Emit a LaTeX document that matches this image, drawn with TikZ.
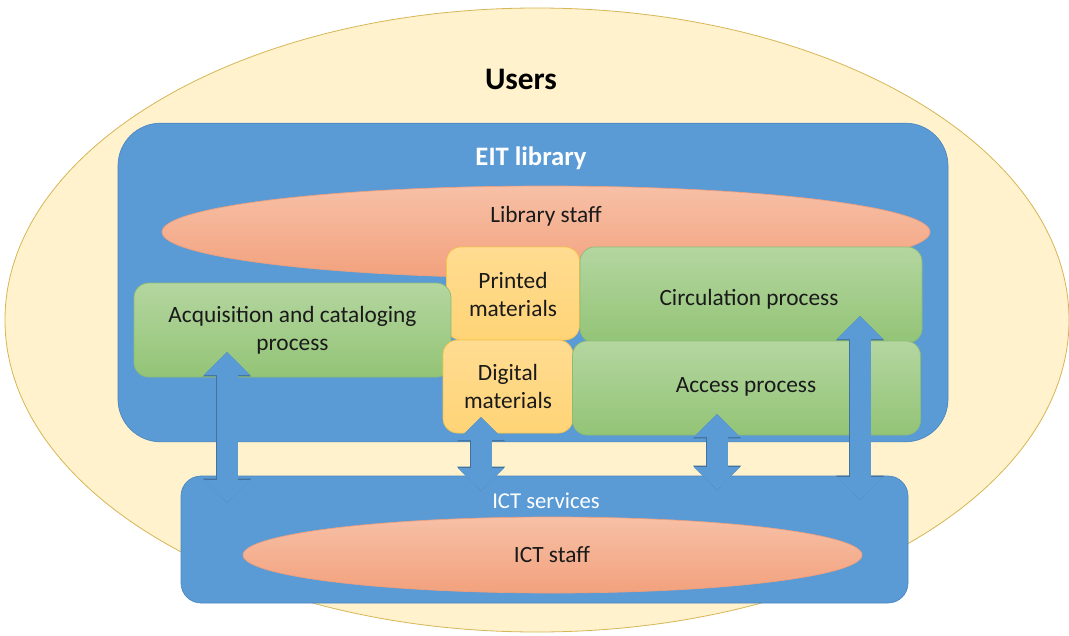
\documentclass[tikz,border=0pt]{standalone}
\usepackage{fontspec}
\setmainfont{Carlito}
\usetikzlibrary{shapes.geometric,arrows.meta}
\definecolor{userfill}{HTML}{FFF2CC}
\definecolor{userline}{HTML}{D6B656}
\definecolor{blue1}{HTML}{5B9BD5}
\definecolor{blueline}{HTML}{4A86C0}
\definecolor{arrline}{HTML}{41719C}
\definecolor{orTop}{HTML}{F7C0A6}
\definecolor{orBot}{HTML}{F2A17D}
\definecolor{orLine}{HTML}{EE9F7C}
\definecolor{grTop}{HTML}{B4D6A0}
\definecolor{grBot}{HTML}{93C476}
\definecolor{grLine}{HTML}{8DBB74}
\definecolor{yeTop}{HTML}{FFDC92}
\definecolor{yeBot}{HTML}{FFD476}
\definecolor{yeLine}{HTML}{F6C34C}
\definecolor{txt}{HTML}{1A1A1A}
\tikzset{
  x=0.75pt, y=-0.75pt,
  lbl/.style={font=\fontsize{17.5}{21}\selectfont, text=txt, align=center, inner sep=0pt},
  staffell/.style={ellipse, draw=orLine, line width=0.5pt, top color=orTop, bottom color=orBot, inner sep=0pt},
  greenbox/.style={rectangle, rounded corners=11pt, draw=grLine, line width=0.5pt, top color=grTop, bottom color=grBot, inner sep=0pt},
  yellowbox/.style={rectangle, rounded corners=11pt, draw=yeLine, line width=0.5pt, top color=yeTop, bottom color=yeBot, inner sep=0pt},
  bluebox/.style={rectangle, draw=blueline, line width=0.5pt, fill=blue1, inner sep=0pt},
  bigarr/.style={
    preaction={draw=arrline, line width=16.7pt,
      arrows={Triangle[width=34.9pt,length=18.2pt]-Triangle[width=34.9pt,length=18.2pt]}},
    draw=blue1, line width=15.75pt,
    arrows={Triangle[width=33.75pt,length=17.25pt]-Triangle[width=33.75pt,length=17.25pt]}},
}
\begin{document}
\begin{tikzpicture}
\useasboundingbox (0,0) rectangle (1069,635);
% Users ellipse
\node[ellipse, draw=userline, line width=0.6pt, fill=userfill, minimum width=798pt, minimum height=468pt, inner sep=0pt] (users) at (537,320) {};
\node[font=\bfseries\fontsize{23.5}{28}\selectfont, inner sep=0pt] (userslbl) at (521,79) {Users};
% EIT library
\node[bluebox, rounded corners=32pt, minimum width=622.5pt, minimum height=239pt] (eit) at (533,282.5) {};
\node[font=\bfseries\fontsize{20}{24}\selectfont, text=white, inner sep=0pt] (eitlbl) at (531,158) {EIT library};
% Library staff
\node[staffell, minimum width=576pt, minimum height=69pt] (libstaff) at (546,232) {};
\node[lbl] (libstafflbl) at (546,216) {Library staff};
% Printed materials
\node[yellowbox, minimum width=99.75pt, minimum height=69.75pt] (printed) at (513,293.5) {};
\node[lbl] (printedlbl) at (513,294) {Printed\\materials};
% Acquisition
\node[greenbox, minimum width=237.75pt, minimum height=70.5pt] (acq) at (292.5,330) {};
\node[lbl] (acqlbl) at (292.5,330) {Acquisition and cataloging\\process};
% Circulation
\node[greenbox, minimum width=256.5pt, minimum height=72pt] (circ) at (751,295) {};
\node[lbl] (circlbl) at (749,299) {Circulation process};
% Digital materials
\node[yellowbox, minimum width=97.5pt, minimum height=69.75pt] (digital) at (508,386.5) {};
\node[lbl] (digitallbl) at (508,386.5) {Digital\\materials};
% Access
\node[greenbox, minimum width=261pt, minimum height=70.5pt] (access) at (746.5,388) {};
\node[lbl] (accesslbl) at (746,387) {Access process};
% ICT services
\node[bluebox, rounded corners=15pt, minimum width=545.25pt, minimum height=95.25pt] (ict) at (544.5,539.5) {};
\node[lbl, text=white, font=\fontsize{17}{20}\selectfont] (ictlbl) at (546,501) {ICT services};
\node[staffell, minimum width=464.25pt, minimum height=57pt] (ictstaff) at (552.5,555) {};
\node[lbl] (ictstafflbl) at (552,555) {ICT staff};
% arrows
\coordinate (a1t) at (227,352);
\coordinate (a1b) at (227,503);
\coordinate (a2t) at (481,417);
\coordinate (a2b) at (481,491);
\coordinate (a3t) at (717,414);
\coordinate (a3b) at (717,490);
\coordinate (a4t) at (860,316);
\coordinate (a4b) at (860,500);
\draw[bigarr] (a1t) -- (a1b);
\draw[bigarr] (a2t) -- (a2b);
\draw[bigarr] (a3t) -- (a3b);
\draw[bigarr] (a4t) -- (a4b);
\end{tikzpicture}
\end{document}
